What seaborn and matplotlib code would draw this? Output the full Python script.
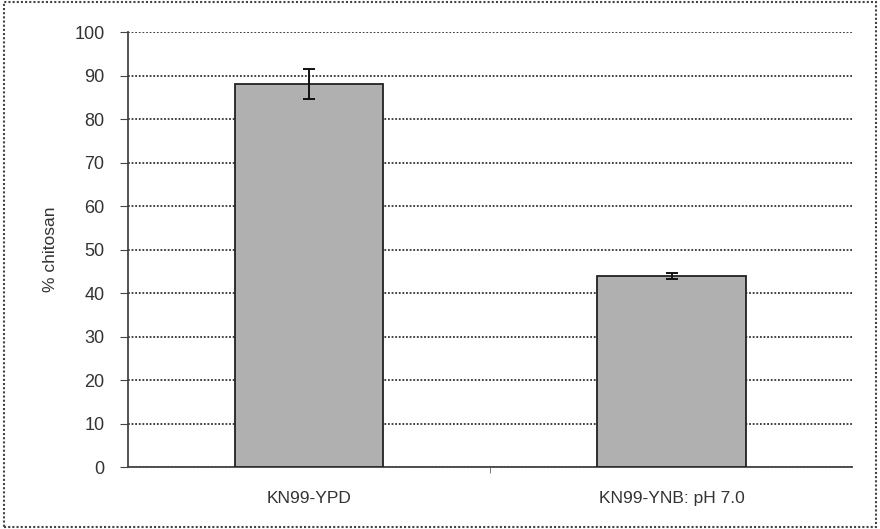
import numpy as np
import pandas as pd
import matplotlib
matplotlib.use('Agg')
import matplotlib.pyplot as plt
import seaborn as sns

# data
conditions = ['KN99-YPD', 'KN99-YNB: pH 7.0']
chitosan = [88, 44]
errors = [3.5, 0.7]

df = pd.DataFrame({'condition': conditions, 'chitosan': chitosan})

sns.set_style('white')
plt.rcParams['font.family'] = ['Liberation Sans', 'DejaVu Sans']

fig = plt.figure(figsize=(8.8, 5.29), dpi=100)
ax = fig.add_axes([0.1455, 0.117, 0.8235, 0.8225])

sns.barplot(data=df, x='condition', y='chitosan', color='#b0b0b0',
            edgecolor='#222222', linewidth=1.3, width=0.41, ax=ax,
            saturation=1, zorder=3)
ax.errorbar(range(len(conditions)), chitosan, yerr=errors, fmt='none',
            ecolor='#111111', elinewidth=1.4, capsize=4, capthick=1.4, zorder=4)

ax.set_ylim(0, 100)
ax.set_xlim(-0.5, 1.5)
ax.set_yticks(np.arange(0, 101, 10))
ax.yaxis.grid(True, color='#333333', linestyle=(0, (1, 1)), linewidth=1.3, zorder=0)
ax.set_axisbelow(True)

for s in ['top', 'right']:
    ax.spines[s].set_visible(False)
for s in ['left', 'bottom']:
    ax.spines[s].set_color('#444444')
    ax.spines[s].set_linestyle((0, (1, 1)))
    ax.spines[s].set_linewidth(1.3)

ax.tick_params(axis='y', left=True, length=6, color='#444444', labelsize=13,
               pad=11, labelcolor='#333333')
ax.tick_params(axis='x', bottom=False, labelsize=12.5, pad=14, labelcolor='#333333')
ax.set_xticks([0.5], minor=True)
ax.tick_params(axis='x', which='minor', bottom=True, length=4, color='#666666')

ax.set_xlabel('')
ax.set_ylabel('% chitosan', fontsize=12.5, labelpad=12, color='#333333')

# dotted frame round the whole figure
fig.patches.append(plt.Rectangle((0.004, 0.004), 0.992, 0.992, transform=fig.transFigure,
                                 fill=False, edgecolor='#444444', linestyle=(0, (1, 1)),
                                 linewidth=1.5))

fig.savefig('out.png', dpi=100)
